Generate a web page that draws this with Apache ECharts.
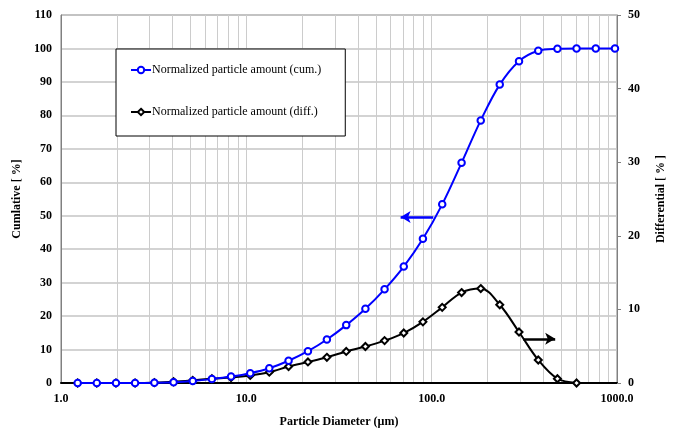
<!DOCTYPE html>
<html>
<head>
<meta charset="utf-8">
<script src="https://cdn.jsdelivr.net/npm/echarts@6/dist/echarts.min.js"></script>
<style>html,body{margin:0;padding:0;background:#fff}#c{width:675px;height:433px}</style>
</head>
<body>
<div id="c"></div>
<script>
// Particle diameters (µm)
const diameters = [1.23, 1.56, 1.98, 2.51, 3.19, 4.05, 5.14, 6.52, 8.27, 10.5, 13.3, 16.9, 21.5, 27.2, 34.6, 43.9, 55.7, 70.7, 89.7, 114, 145, 184, 233, 296, 376, 477, 605, 768, 975];
const extraDiameter = 1237;
// Cumulative [%]
const cumValues = [0, 0, 0, 0, 0.05, 0.22, 0.58, 1.16, 1.91, 2.94, 4.41, 6.65, 9.5, 13.0, 17.3, 22.2, 28.0, 34.8, 43.1, 53.4, 65.8, 78.5, 89.2, 96.2, 99.3, 99.9, 100, 100, 100];
const extraCum = 100;
// Differential [%]
const diffValues = [0, 0, 0, 0, 0.05, 0.17, 0.36, 0.58, 0.75, 1.03, 1.47, 2.24, 2.86, 3.49, 4.29, 4.96, 5.76, 6.79, 8.31, 10.28, 12.29, 12.83, 10.63, 6.93, 3.12, 0.58, 0];
// Tick values
const leftTicks = [0, 110, 10];
const rightTicks = [0, 50, 10];
const xRange = [1, 1000];
const verticalGrid = [2,3,4,5,6,7,8,9,10,20,30,40,50,60,70,80,90,100,200,300,400,500,600,700,800,900];
// Arrow annotations
const cumArrow = [[102, 49.6], [68, 49.6]];
const diffArrow = [[312, 6.0], [464, 6.0]];

const FONT = "'Liberation Serif','Times New Roman',serif";

const cumData = diameters.map((d, i) => [d, cumValues[i]]);
cumData.push({ value: [extraDiameter, extraCum], symbol: 'none' });
const diffData = diffValues.map((v, i) => [diameters[i], v]);

const chart = echarts.init(document.getElementById('c'), null, { renderer: 'canvas' });
chart.setOption({
  animation: false,
  backgroundColor: '#fff',
  grid: { left: 61, right: 58, top: 15, bottom: 45, show: true, borderColor: '#808080', borderWidth: 1, backgroundColor: 'transparent' },
  legend: {
    left: 116, top: 49, z: 50, zlevel: 1,
    orient: 'vertical',
    backgroundColor: '#fff',
    borderColor: '#000', borderWidth: 1,
    padding: [15, 24, 18, 14],
    itemGap: 30,
    itemWidth: 20, itemHeight: 8,
    textStyle: { fontFamily: FONT, fontSize: 12, color: '#000', padding: [0, 0, 0, -4] },
    data: ['Normalized particle amount (cum.)', 'Normalized particle amount (diff.)']
  },
  xAxis: {
    type: 'log', logBase: 10, min: xRange[0], max: xRange[1],
    name: 'Particle Diameter (µm)', nameLocation: 'middle', nameGap: 33,
    nameTextStyle: { fontFamily: FONT, fontSize: 12, fontWeight: 'bold', color: '#000' },
    axisLine: { show: true, lineStyle: { color: '#000', width: 2 } },
    axisTick: { show: false },
    axisLabel: { fontFamily: FONT, fontSize: 12, fontWeight: 'bold', color: '#000', margin: 10,
      formatter: v => Number(v).toFixed(1) },
    splitLine: { show: false }
  },
  yAxis: [
    {
      type: 'value', min: leftTicks[0], max: leftTicks[1], interval: leftTicks[2],
      name: 'Cumlative [ %]', nameLocation: 'middle', nameGap: 35, nameRotate: 90,
      nameTextStyle: { fontFamily: FONT, fontSize: 12, fontWeight: 'bold', color: '#000' },
      axisLine: { show: true, lineStyle: { color: '#808080', width: 1 } },
      axisTick: { show: false },
      axisLabel: { fontFamily: FONT, fontSize: 12, fontWeight: 'bold', color: '#000', margin: 9 },
      splitLine: { show: true, lineStyle: { color: '#c4c4c4', width: 1.5 } }
    },
    {
      type: 'value', min: rightTicks[0], max: rightTicks[1], interval: rightTicks[2],
      position: 'right',
      name: 'Differential [ % ]', nameLocation: 'middle', nameGap: 38, nameRotate: 90,
      nameTextStyle: { fontFamily: FONT, fontSize: 12, fontWeight: 'bold', color: '#000' },
      axisLine: { show: true, lineStyle: { color: '#808080', width: 1 } },
      axisTick: { show: true, inside: false, length: 4, lineStyle: { color: '#808080' } },
      axisLabel: { fontFamily: FONT, fontSize: 12, fontWeight: 'bold', color: '#000', margin: 11 },
      splitLine: { show: false }
    }
  ],
  series: [
    {
      type: 'line', name: 'grid-lines', data: [], silent: true, z: 0,
      markLine: {
        silent: true, symbol: ['none', 'none'], label: { show: false }, z: 0,
        lineStyle: { color: '#cccccc', width: 1, type: 'solid' },
        emphasis: { disabled: true },
        data: verticalGrid.map(v => ({ xAxis: v }))
      }
    },
    {
      type: 'line', name: 'Normalized particle amount (cum.)', yAxisIndex: 0,
      data: cumData, smooth: 0.35, clip: false, z: 3,
      symbol: 'emptyCircle', symbolSize: 6.5,
      lineStyle: { color: '#0000ff', width: 2 },
      itemStyle: { color: '#0000ff', borderWidth: 1.3 },
      markLine: {
        silent: true, symbol: ['none', 'arrow'], symbolSize: [9, 10], label: { show: false },
        lineStyle: { color: '#0000ff', width: 2.5, type: 'solid' },
        data: [[{ coord: cumArrow[0] }, { coord: cumArrow[1] }]]
      }
    },
    {
      type: 'line', name: 'Normalized particle amount (diff.)', yAxisIndex: 1,
      data: diffData, smooth: 0.35, z: 2,
      symbol: 'emptyDiamond', symbolSize: 7,
      lineStyle: { color: '#000', width: 2 },
      itemStyle: { color: '#000', borderWidth: 1.2 },
      markLine: {
        silent: true, symbol: ['none', 'arrow'], symbolSize: [9, 10], label: { show: false },
        lineStyle: { color: '#000', width: 2.5, type: 'solid' },
        data: [[{ coord: diffArrow[0] }, { coord: diffArrow[1] }]]
      }
    }
  ]
});
</script>
</body>
</html>
